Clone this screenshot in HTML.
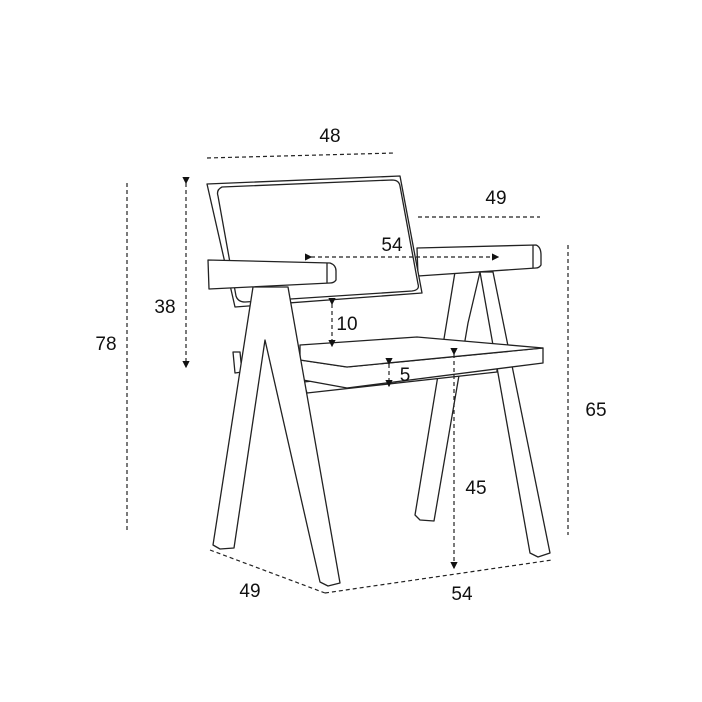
<!DOCTYPE html>
<html><head><style>
html,body{margin:0;padding:0;background:#fff;}
svg{display:block;}
text{font-family:"Liberation Sans",sans-serif;font-size:19px;fill:#111;}
</style></head><body>
<svg width="702" height="702" viewBox="0 0 702 702" xmlns="http://www.w3.org/2000/svg">
<defs>
<marker id="a" markerWidth="6" markerHeight="6" refX="5" refY="3" orient="auto"><path d="M0,0 L6,3 L0,6z" fill="#111"/></marker>
</defs>
<g fill="#fff" stroke="#222" stroke-width="1.3" stroke-linejoin="round">
<!-- right A frame -->
<path d="M455,272 L415,515 L420,520 L434,521 L468,323 L480,272 Z"/>
<path d="M480,272 L530,553 L538,557 L550,553 L493,272 Z"/>
<!-- right armrest -->
<path d="M417,248 L536,245 Q541,247 541,255 L541,265 Q539,268 536,268 L418,276 Z"/>
<line x1="533" y1="245" x2="533" y2="268"/>
<!-- backrest -->
<path d="M207,184 L400,176 L422,293 L235,307 Z"/>
<path d="M222,187 Q216,190 218,196 L236,296 Q238,302 245,302 L412,291 Q420,290 418,284 L400,186 Q399,180 392,180 Z"/>
<!-- seat back support -->
<path d="M233,352 L240,352 L242,372 L235,373 Z"/>
<!-- stretcher under seat -->
<path d="M303,382 L497,364 L497,372 L307,393 Z"/>
<!-- seat -->
<path d="M300,360 L347,367 L543,348 L543,363 L347,388 L303,380 Z"/>
<path d="M300,345 L417,337 L543,348 L347,367 L300,360 Z"/>
<!-- left A frame -->
<path d="M253,287 L213,545 L220,549 L234,548 L265,340 L320,582 L328,586 L340,583 L288,287 Z"/>
<!-- left armrest -->
<path d="M208,260 L330,263 Q336,265 336,271 L336,280 Q334,283 330,283 L209,289 Z"/>
<line x1="327" y1="263" x2="327" y2="283"/>
</g>
<g stroke="#222" stroke-width="1.2" fill="none" stroke-dasharray="4,3">
<line x1="127" y1="183" x2="127" y2="533"/>
<line x1="186" y1="183" x2="186" y2="367" marker-start="url(#a)" marker-end="url(#a)"/>
<line x1="207" y1="158" x2="395" y2="153"/>
<line x1="418" y1="217" x2="540" y2="217"/>
<line x1="311" y1="257" x2="498" y2="257" marker-start="url(#a)" marker-end="url(#a)"/>
<line x1="332" y1="304" x2="332" y2="346" marker-start="url(#a)" marker-end="url(#a)"/>
<line x1="389" y1="364" x2="389" y2="386" marker-start="url(#a)" marker-end="url(#a)"/>
<line x1="454" y1="354" x2="454" y2="568" marker-start="url(#a)" marker-end="url(#a)"/>
<line x1="568" y1="245" x2="568" y2="535"/>
<line x1="210" y1="550" x2="325" y2="593"/>
<line x1="325" y1="593" x2="552" y2="560"/>
</g>
<text x="330" y="142" text-anchor="middle">48</text>
<text x="496" y="204" text-anchor="middle">49</text>
<text x="392" y="251" text-anchor="middle">54</text>
<text x="165" y="313" text-anchor="middle">38</text>
<text x="106" y="350" text-anchor="middle">78</text>
<text x="347" y="330" text-anchor="middle">10</text>
<text x="405" y="381" text-anchor="middle">5</text>
<text x="476" y="494" text-anchor="middle">45</text>
<text x="596" y="416" text-anchor="middle">65</text>
<text x="250" y="597" text-anchor="middle">49</text>
<text x="462" y="600" text-anchor="middle">54</text>
</svg>
</body></html>
